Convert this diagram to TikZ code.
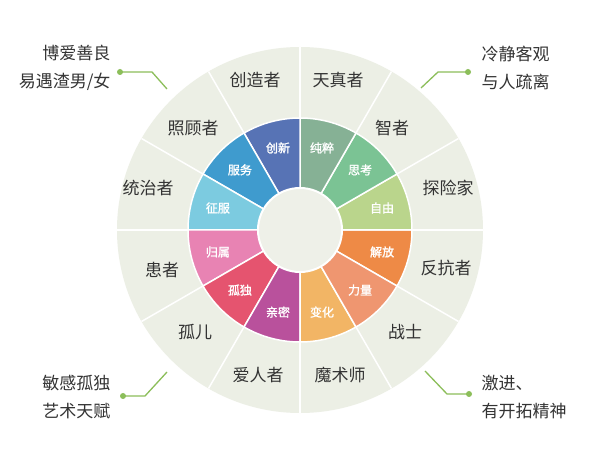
\documentclass[tikz,border=0pt]{standalone}
\usepackage{fontspec}
\usetikzlibrary{calc}
\setmainfont{Noto Sans CJK SC}
\newfontfamily\cjkb[FakeBold=1.5]{Noto Sans CJK SC}
\definecolor{bgdisc}{HTML}{ECEFE5}
\definecolor{hub}{HTML}{EEF0E8}
\definecolor{leadc}{HTML}{8CBE5A}
\begin{document}
\begin{tikzpicture}[x=1pt,y=-1pt,
  outer/.style={font=\fontsize{17}{20}\selectfont,text=black!80},
  inner/.style={font=\cjkb\fontsize{12}{14}\selectfont,text=white},
  note/.style={font=\fontsize{17}{28}\selectfont,text=black!80,align=left},
  lead/.style={draw=leadc,line width=1.3pt},
  dot/.style={circle,fill=leadc,inner sep=0pt,minimum size=6pt}]
\useasboundingbox (0,0) rectangle (600,470);
\fill[white] (0,0) rectangle (600,470);
\coordinate (c) at (300,230);
\fill[bgdisc] (c) circle (183);
\foreach \a in {0,30,...,330}{\draw[white,line width=1.5pt] (c) -- ++(\a:183);}
\foreach \s/\col in {0/ee8a46,1/bad58c,2/7bc394,3/86b195,4/5773b5,5/3f9bce,6/7ccbe0,7/e883b3,8/e5546f,9/b9519c,10/f2b565,11/ef9670}{
  \definecolor{sc}{HTML}{\col}
  \pgfmathsetmacro\aa{-\s*30}
  \pgfmathsetmacro\ab{\aa+30}
  \fill[sc,draw=white,line width=1.5pt] (c) -- ++(\ab:112) arc[start angle=\ab,end angle=\aa,radius=112] -- cycle;
}
\fill[hub,draw=white,line width=2pt] (c) circle (42);
\foreach \t/\a in {创新/-105,纯粹/-75,思考/-45,自由/-15,解放/15,力量/45,变化/75,亲密/105,孤独/135,归属/165,征服/195,服务/225}{
  \node[inner] (i\a) at ($(c)+(\a:85)$) {\t};
}
\node[outer] (o1) at (255,80) {创造者};
\node[outer] (o2) at (338,80) {天真者};
\node[outer] (o3) at (392,128) {智者};
\node[outer] (o4) at (448,188) {探险家};
\node[outer] (o5) at (446,268) {反抗者};
\node[outer] (o6) at (405,332) {战士};
\node[outer] (o7) at (340,375) {魔术师};
\node[outer] (o8) at (258,375) {爱人者};
\node[outer] (o9) at (195,332) {孤儿};
\node[outer] (o10) at (162,270) {患者};
\node[outer] (o11) at (148,188) {统治者};
\node[outer] (o12) at (193,128) {照顾者};
\node[note,anchor=east,align=right] (n1) at (114,68) {博爱善良\\易遇渣男/女};
\node[note,anchor=west] (n2) at (478,68) {冷静客观\\与人疏离};
\node[note,anchor=east,align=right] (n3) at (114,397) {敏感孤独\\艺术天赋};
\node[note,anchor=west] (n4) at (478,397) {激进、\\有开拓精神};
\node[dot] (d1) at (120,72) {};
\node[dot] (d2) at (468,72) {};
\node[dot] (d3) at (123,396) {};
\node[dot] (d4) at (469,394) {};
\coordinate (e1) at (167,89); \coordinate (e2) at (421,88);
\coordinate (e3) at (167,372); \coordinate (e4) at (425,371);
\draw[lead] (d1.center) -- (152,72) -- (e1);
\draw[lead] (d2.center) -- (438,72) -- (e2);
\draw[lead] (d3.center) -- (145,396) -- (e3);
\draw[lead] (d4.center) -- (447,394) -- (e4);
\end{tikzpicture}
\end{document}
